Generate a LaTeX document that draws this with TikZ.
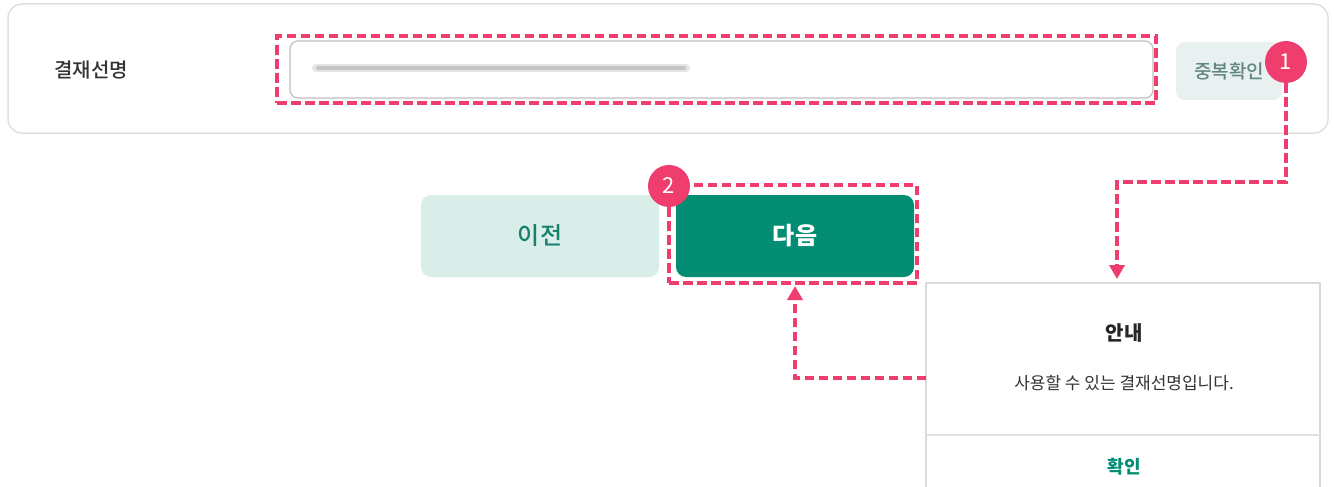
\documentclass[tikz,border=0pt]{standalone}
\usepackage{fontspec}
\setmainfont{Noto Sans CJK KR}
\newfontfamily\medfont{Noto Sans CJK KR Medium}
\usepackage{xcolor}
\definecolor{rose}{RGB}{239,62,110}
\definecolor{vertf}{RGB}{3,142,116}
\definecolor{vertc}{RGB}{217,238,233}
\definecolor{vertt}{RGB}{24,128,110}
\definecolor{grisv}{RGB}{232,241,239}
\definecolor{grist}{RGB}{95,135,127}
\definecolor{encre}{RGB}{51,51,51}
\usetikzlibrary{arrows.meta,positioning,calc}
\tikzset{
  card/.style={rectangle,rounded corners=14pt,draw=black!12,line width=1.5pt,fill=white},
  field/.style={rectangle,rounded corners=8pt,draw=black!25,line width=1.2pt,fill=white},
  markbox/.style={rectangle,draw=rose,line width=3.5pt,dash pattern=on 9.5pt off 4.5pt},
  badge/.style={circle,fill=rose,text=white,minimum size=42pt,inner sep=0pt,font=\fontsize{22pt}{24pt}\selectfont},
  lbl/.style={text=encre,font=\fontsize{20pt}{22pt}\medfont},
  dupbtn/.style={rectangle,rounded corners=9pt,fill=grisv,text=grist,minimum width=106pt,minimum height=58pt,font=\fontsize{19pt}{21pt}\medfont},
  btnprev/.style={rectangle,rounded corners=10pt,fill=vertc,text=vertt,minimum width=238pt,minimum height=82pt,font=\fontsize{24pt}{26pt}\medfont},
  btnnext/.style={rectangle,rounded corners=10pt,fill=vertf,text=white,minimum width=238pt,minimum height=82pt,font=\fontsize{24pt}{26pt}\selectfont\bfseries},
  dialog/.style={rectangle,draw=black!15,line width=1.5pt,fill=white,minimum width=394pt,minimum height=240pt},
  dtitle/.style={text=black!85,font=\fontsize{20pt}{22pt}\selectfont\bfseries},
  dmsg/.style={text=encre,font=\fontsize{17pt}{19pt}\selectfont},
  dok/.style={text=vertf,font=\fontsize{18pt}{20pt}\selectfont\bfseries},
  conn/.style={draw=rose,line width=3.5pt,dash pattern=on 9.5pt off 4.5pt,-{Triangle[width=15pt,length=14pt]}},
}
\begin{document}
\begin{tikzpicture}[x=1pt,y=-1pt]
  \clip (0,0) rectangle (1334,487);
  \fill[white] (0,0) rectangle (1334,487);
  % top card
  \node[card,minimum width=1320pt,minimum height=129pt] (card) at (668,68.5) {};
  \node[lbl] (name) at (91,70) {결재선명};
  \node[field,minimum width=863pt,minimum height=57pt] (field) at (721.5,69.5) {};
  \draw[black!20,line width=8pt,line cap=round,opacity=0.5] (316,68) -- (686,68);
  \draw[black!35,line width=4pt,line cap=round,opacity=0.5] (318,68) -- (684,68);
  \node[markbox,minimum width=879pt,minimum height=67pt] (fieldmark) at (716.5,69.5) {};
  \node[dupbtn] (dup) at (1229,71) {중복확인};
  \node[badge] (b1) at (1286,62) {1};
  % buttons
  \node[btnprev] (prev) at (540,236) {이전};
  \node[btnnext] (next) at (795,236) {다음};
  \node[markbox,minimum width=248pt,minimum height=98pt] (nextmark) at (793,234) {};
  \node[badge] (b2) at (669,186) {2};
  % dialog
  \node[dialog] (dlg) at (1123,403) {};
  \coordinate (sepy) at (0,435);
  \draw[black!12,line width=1.5pt] (dlg.west |- sepy) -- (dlg.east |- sepy);
  \node[dtitle] (title) at (1124,333) {안내};
  \node[dmsg] (msg) at (1124,383) {사용할 수 있는 결재선명입니다.};
  \node[dok] (ok) at (1124,467) {확인};
  % connectors
  \coordinate (turn1) at (1117,182);
  \coordinate (tip1) at (1117,279);
  \coordinate (from2) at (926,378);
  \coordinate (tip2) at (795,286);
  \draw[conn] (b1.south) |- (turn1) -- (tip1);
  \draw[conn] (from2) -| (tip2);
\end{tikzpicture}
\end{document}
